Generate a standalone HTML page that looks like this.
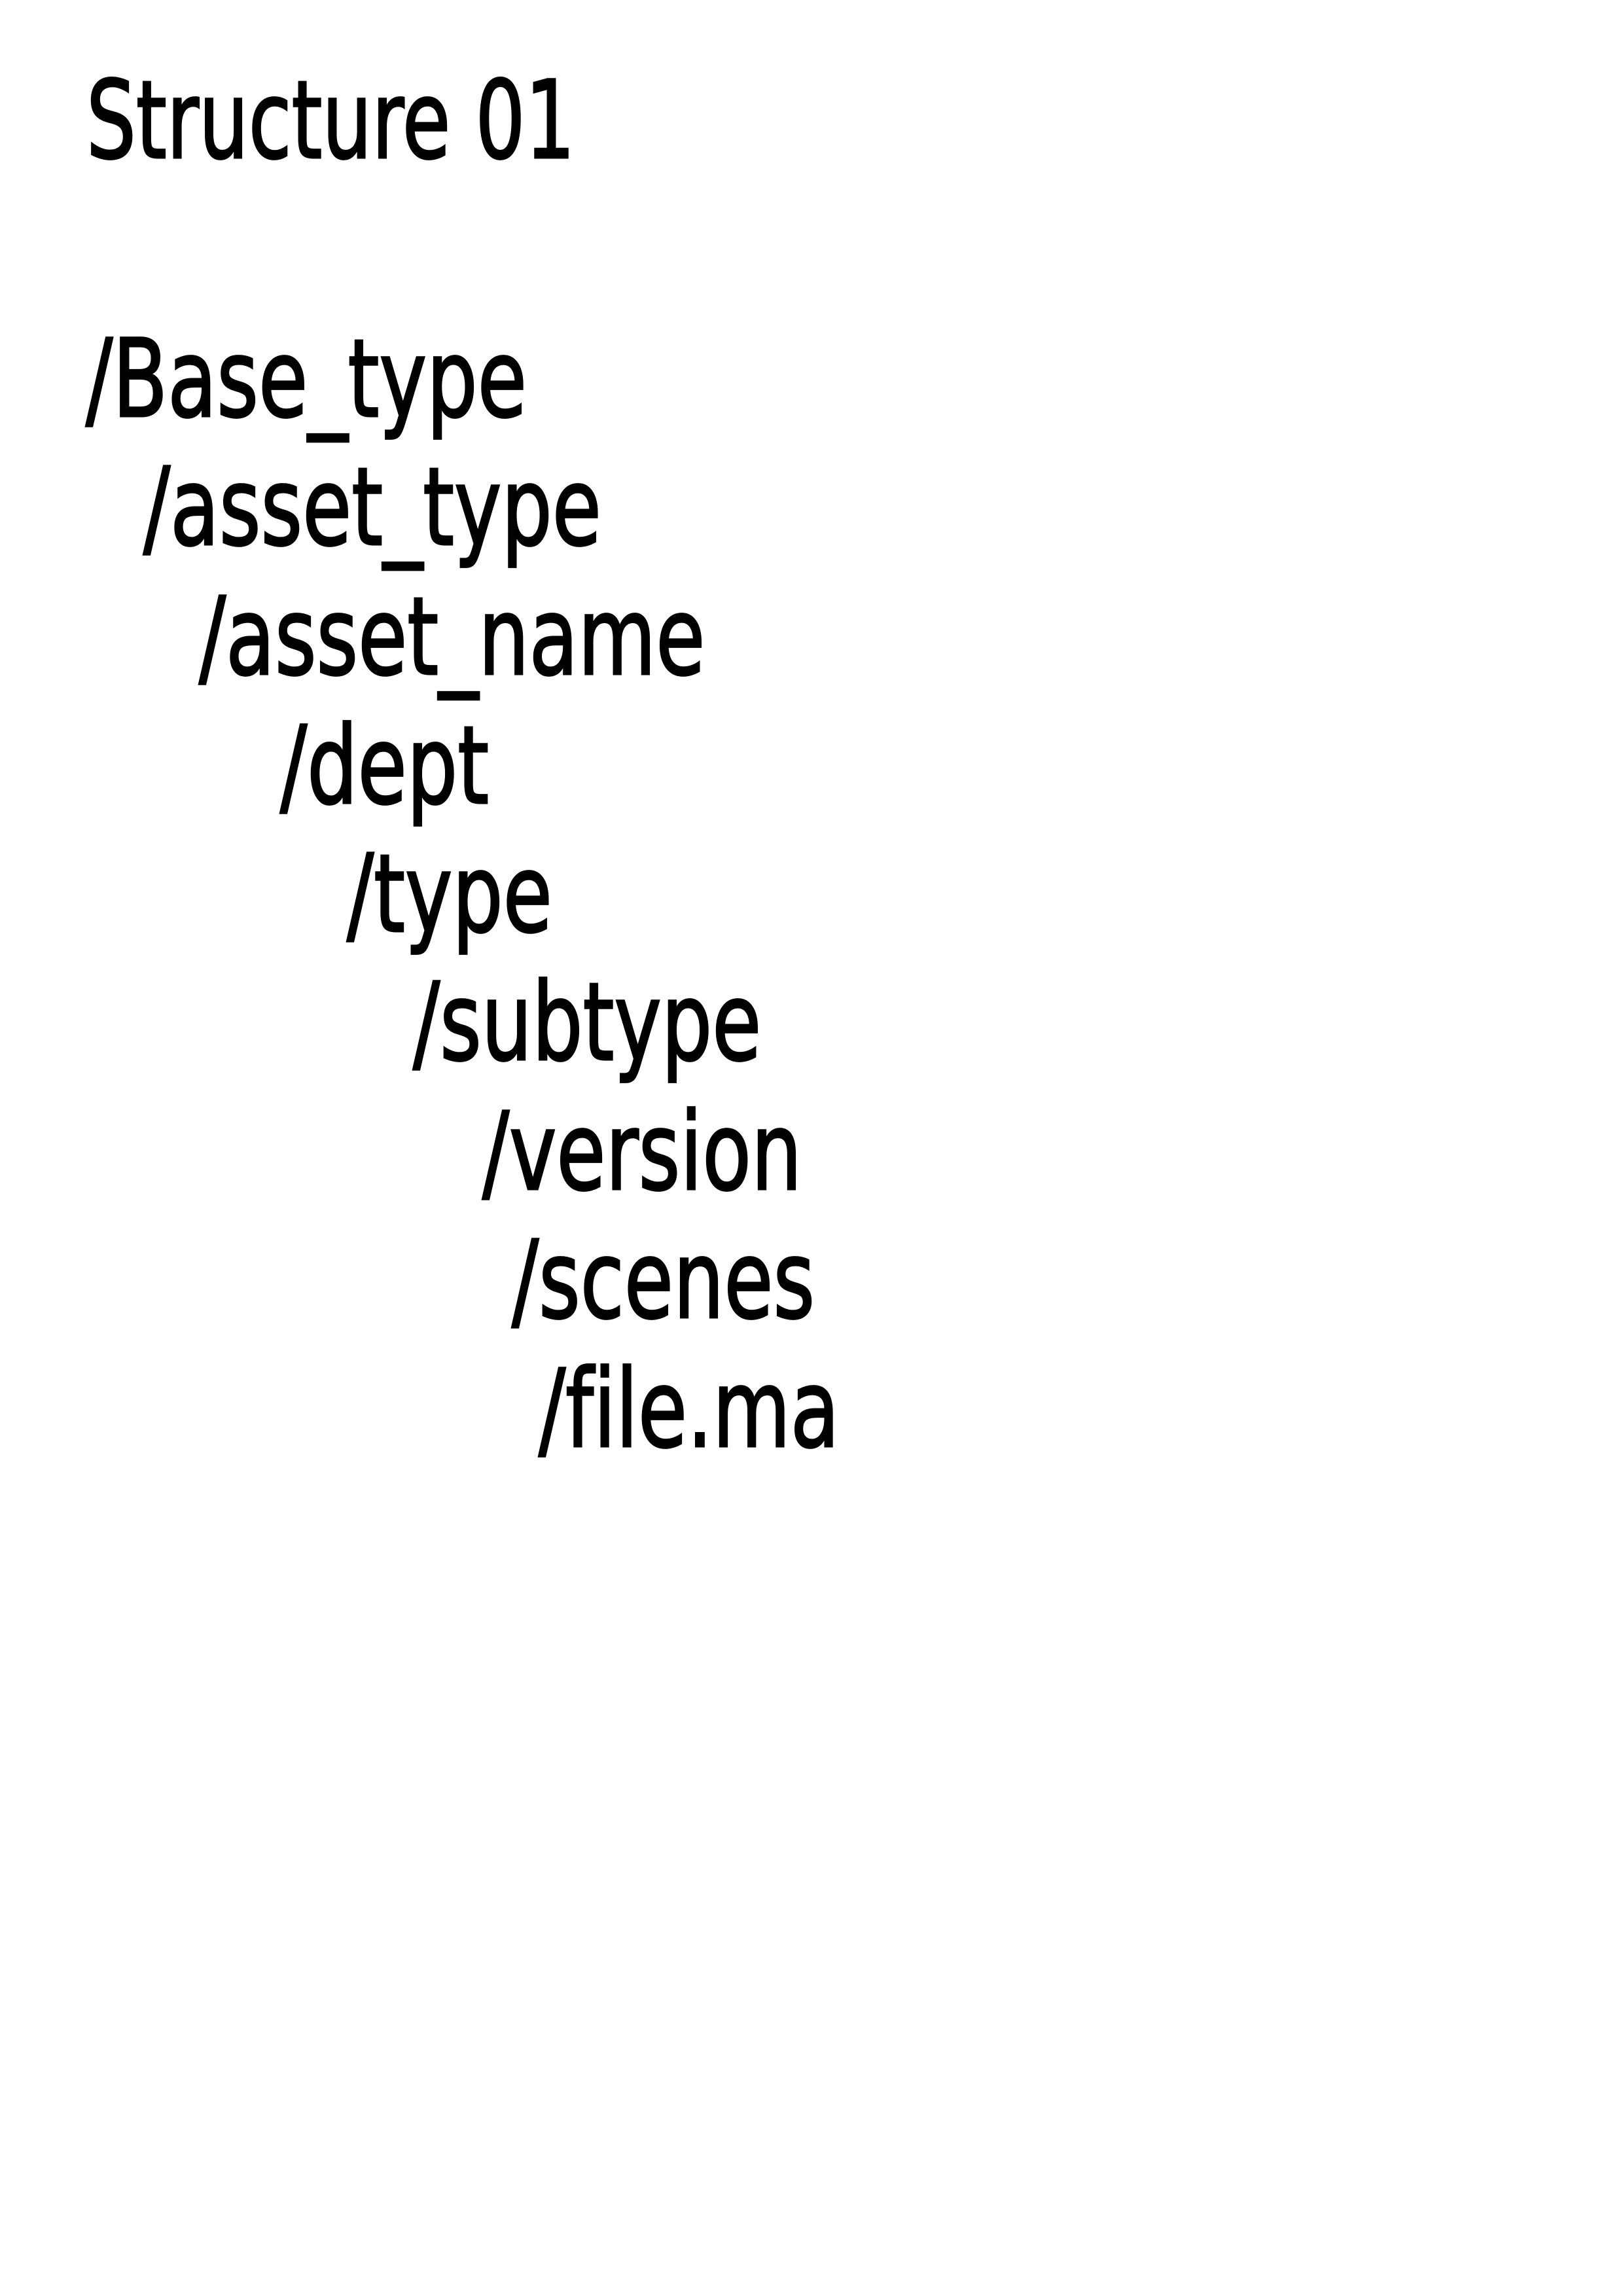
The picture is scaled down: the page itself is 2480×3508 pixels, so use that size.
<!DOCTYPE html>
<html><head><meta charset="utf-8"><style>
html,body{margin:0;padding:0;background:#fff;}
svg{display:block;}
text{font-family:"DejaVu Sans","Liberation Sans",sans-serif;font-size:165px;fill:#000;stroke:#000;stroke-width:3px;font-variant-ligatures:none;}
</style></head><body>
<svg width="2480" height="3508" viewBox="0 0 2480 3508" xmlns="http://www.w3.org/2000/svg">
<rect width="2480" height="3508" fill="#fff"/>
<g transform="translate(132,241) scale(0.725,1)"><text x="0" y="0">Structure 01</text></g>
<g transform="translate(131,636) scale(0.742,1)"><text x="0" y="0">/Base_type</text></g>
<g transform="translate(219,832) scale(0.74,1)"><text x="0" y="0">/asset_type</text></g>
<g transform="translate(304,1030) scale(0.74,1)"><text x="0" y="0">/asset_name</text></g>
<g transform="translate(428,1227) scale(0.74,1)"><text x="0" y="0">/dept</text></g>
<g transform="translate(530,1423) scale(0.74,1)"><text x="0" y="0">/type</text></g>
<g transform="translate(631,1619) scale(0.74,1)"><text x="0" y="0">/subtype</text></g>
<g transform="translate(737,1817) scale(0.74,1)"><text x="0" y="0">/version</text></g>
<g transform="translate(782,2013) scale(0.74,1)"><text x="0" y="0">/scenes</text></g>
<g transform="translate(823,2210) scale(0.74,1)"><text x="0" y="0">/file.ma</text></g>
</svg>
</body></html>
